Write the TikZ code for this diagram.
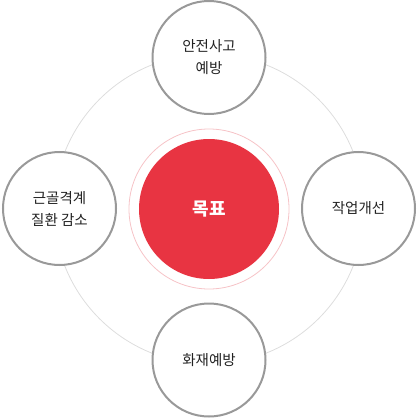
\documentclass[tikz,border=0pt]{standalone}
\usepackage{fontspec}
\setmainfont{Noto Sans CJK KR}
\definecolor{mainred}{HTML}{E83442}
\definecolor{pinkring}{HTML}{F6C3C7}
\definecolor{ringgray}{HTML}{DDDDDD}
\definecolor{satgray}{HTML}{999999}
\definecolor{txt}{HTML}{222222}
\begin{document}
\begin{tikzpicture}[x=1pt,y=-1pt,
  sat/.style={circle,draw=satgray,line width=2pt,fill=white,minimum size=113pt,inner sep=0pt,
    align=center,font=\fontsize{14.5}{22}\selectfont,text=txt},
  goal/.style={circle,fill=mainred,minimum size=140pt,inner sep=0pt,text=white,
    font=\fontsize{18}{22}\selectfont\bfseries}]
\useasboundingbox (0,0) rectangle (420,420);
\coordinate (c) at (209,209);
\draw[ringgray,line width=0.8pt] (c) circle[radius=155pt];
\draw[pinkring,line width=0.8pt] (c) circle[radius=80pt];
\node[goal] (g) at (c) {목표};
\node[sat] (t) at (209,57.5) {안전사고\\예방};
\node[sat] (l) at (59.5,208.5) {근골격계\\질환 감소};
\node[sat] (r) at (358.5,208.5) {작업개선};
\node[sat] (b) at (209,360) {화재예방};
\end{tikzpicture}
\end{document}
